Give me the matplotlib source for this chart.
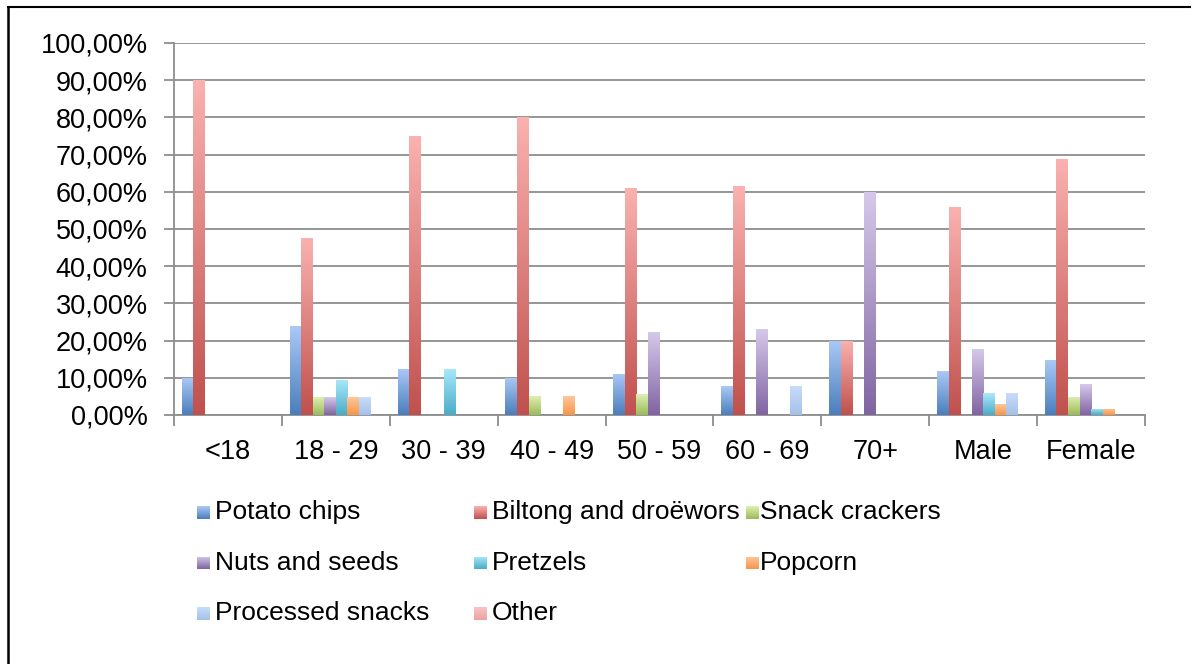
import numpy as np
import matplotlib
matplotlib.use("Agg")
import matplotlib.pyplot as plt
from matplotlib.colors import LinearSegmentedColormap
from matplotlib.lines import Line2D
from matplotlib.patches import Rectangle

plt.rcParams['font.family'] = ['Liberation Sans', 'DejaVu Sans']

categories = ["<18", "18 - 29", "30 - 39", "40 - 49", "50 - 59", "60 - 69", "70+", "Male", "Female"]
series_names = ["Potato chips", "Biltong and droëwors", "Snack crackers", "Nuts and seeds",
                "Pretzels", "Popcorn", "Processed snacks", "Other"]

potato_chips = [10.00, 23.81, 12.50, 10.00, 11.11, 7.69, 20.00, 11.76, 14.75]
biltong = [90.00, 47.62, 75.00, 80.00, 61.11, 61.54, 20.00, 55.88, 68.85]
snack_crackers = [0, 4.76, 0, 5.00, 5.56, 0, 0, 0, 4.92]
nuts_seeds = [0, 4.76, 0, 0, 22.22, 23.08, 60.00, 17.65, 8.20]
pretzels = [0, 9.52, 12.50, 0, 0, 0, 0, 5.88, 1.64]
popcorn = [0, 4.76, 0, 5.00, 0, 0, 0, 2.94, 1.64]
processed = [0, 4.76, 0, 0, 0, 7.69, 0, 5.88, 0]
other = [0, 0, 0, 0, 0, 0, 0, 0, 0]

y_ticks = [0, 10, 20, 30, 40, 50, 60, 70, 80, 90, 100]
y_tick_labels = ["0,00%", "10,00%", "20,00%", "30,00%", "40,00%", "50,00%",
                 "60,00%", "70,00%", "80,00%", "90,00%", "100,00%"]

all_series = [potato_chips, biltong, snack_crackers, nuts_seeds, pretzels, popcorn, processed, other]

# (bottom colour, top colour) gradients
grads = [
    ("#4A7EBB", "#ABC9F7"),
    ("#C0504D", "#FAB2B0"),
    ("#9BBB59", "#DDF0B2"),
    ("#8064A2", "#D5C9EA"),
    ("#4BACC6", "#AAE9FC"),
    ("#F79646", "#FEC69D"),
    ("#A5C0E8", "#C8DCFB"),
    ("#ECA2A1", "#F9C4C3"),
]

W, H = 1197, 664
fig = plt.figure(figsize=(W / 100, H / 100), dpi=100)
ax = fig.add_axes([174 / W, 1 - 415 / H, 971 / W, 372 / H])

n = len(all_series)
bw = 0.107
x = np.arange(len(categories)) + 0.5
grad_img = np.linspace(0, 1, 256).reshape(-1, 1)

for j, (vals, (c0, c1)) in enumerate(zip(all_series, grads)):
    cmap = LinearSegmentedColormap.from_list(f"g{j}", [c0, c1])
    xs = x + (j - (n - 1) / 2) * bw
    bars = ax.bar(xs, vals, width=bw, color=c0, linewidth=0, zorder=3)
    for b in bars:
        h = b.get_height()
        if h <= 0:
            continue
        x0 = b.get_x()
        im = ax.imshow(grad_img, extent=[x0, x0 + b.get_width(), 0, h], origin="lower",
                       cmap=cmap, aspect="auto", zorder=4, interpolation="bilinear")
        im.set_clip_path(b)

ax.set_xlim(0, len(categories))
ax.set_ylim(0, 100)

ax.set_yticks(y_ticks)
ax.set_yticklabels(y_tick_labels, fontsize=19.5)
ax.yaxis.grid(True, color="#8E8E8E", linewidth=1.3, zorder=1)
ax.set_axisbelow(True)

ax.set_xticks(np.arange(len(categories) + 1))
ax.set_xticklabels([])
ax.set_xticks(x, minor=True)
ax.set_xticklabels(categories, minor=True, fontsize=19.5)
ax.tick_params(axis="x", which="major", length=8, width=1.3, color="#8E8E8E", direction="out")
ax.tick_params(axis="x", which="minor", length=0, pad=17)
ax.tick_params(axis="y", length=7, width=1.3, color="#8E8E8E", direction="out", pad=12)

for s in ["top", "right"]:
    ax.spines[s].set_visible(False)
for s in ["left", "bottom"]:
    ax.spines[s].set_color("#8E8E8E")
    ax.spines[s].set_linewidth(1.3)

# Legend drawn manually (Excel-style layout)
marker_x = [197, 474, 746]
text_x = [215, 492, 760]
row_y = [512, 563, 613]
leg_grad = np.linspace(0, 1, 64).reshape(-1, 1)
for k, name in enumerate(series_names):
    r, c = divmod(k, 3)
    mx, ty = marker_x[c], row_y[r]
    lax = fig.add_axes([mx / W, 1 - (ty + 6.5) / H, 13 / W, 13 / H])
    lax.imshow(leg_grad, origin="lower", aspect="auto",
               cmap=LinearSegmentedColormap.from_list(f"l{k}", list(grads[k])),
               extent=[0, 1, 0, 1], interpolation="bilinear")
    lax.set_axis_off()
    fig.text(text_x[c] / W, 1 - ty / H, name, fontsize=19, va="center", ha="left")

# frame lines
fig.add_artist(Line2D([8 / W, 8 / W], [0, 1 - 7 / H], transform=fig.transFigure, color="black", lw=1.8))
fig.add_artist(Line2D([8 / W, 1190 / W], [1 - 7 / H, 1 - 7 / H], transform=fig.transFigure, color="black", lw=1.5))

fig.savefig("out.png", dpi=100)
